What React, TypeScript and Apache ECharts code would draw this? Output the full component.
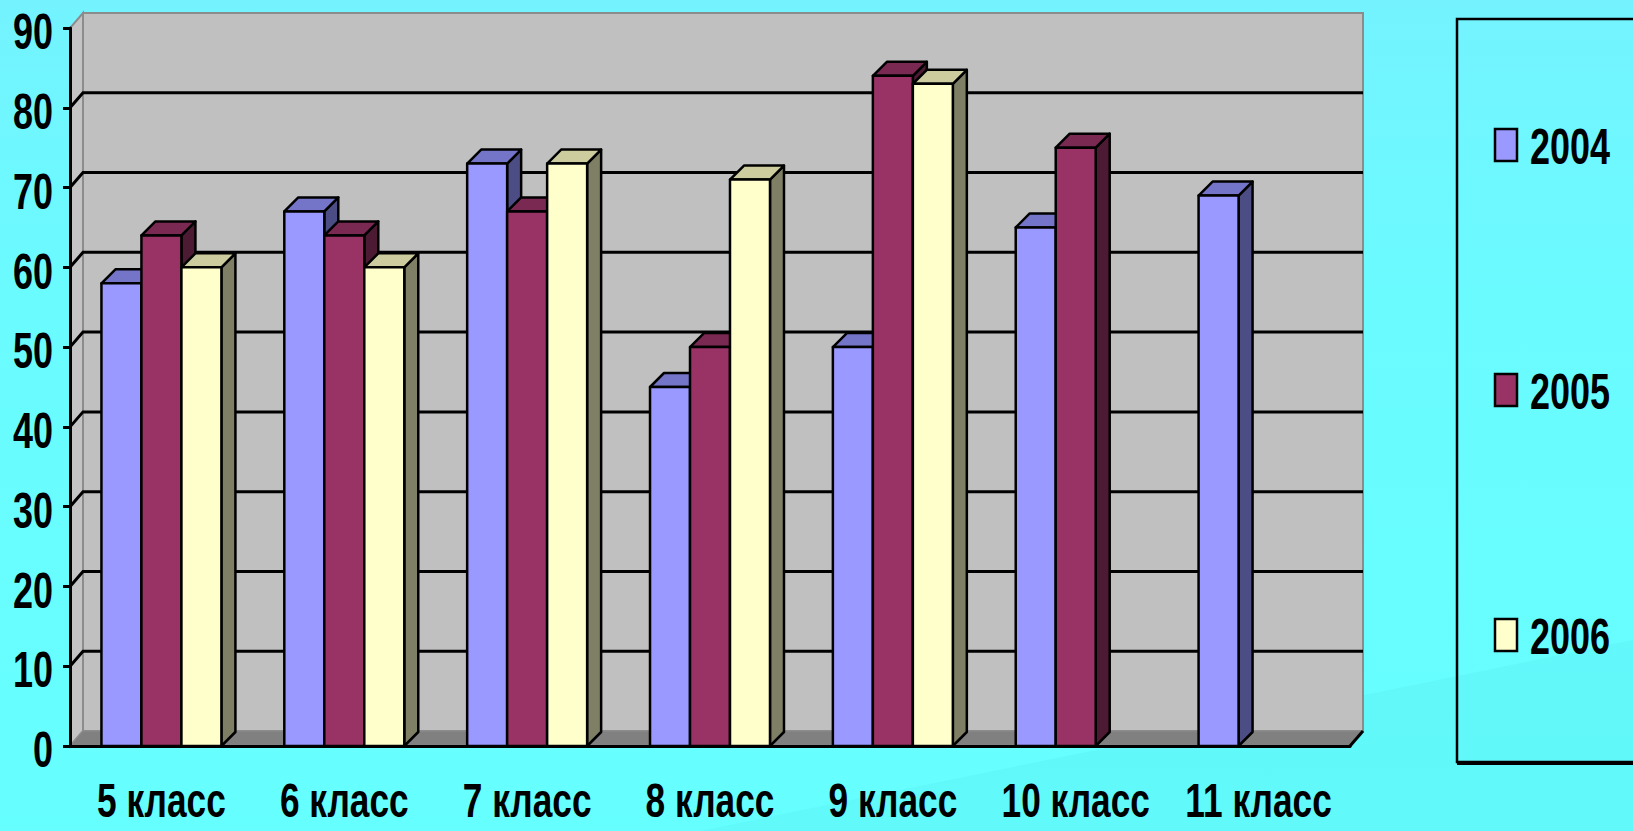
import React, { useEffect, useRef } from "react";
import * as echarts from "echarts";

const categories = ["5 класс", "6 класс", "7 класс", "8 класс", "9 класс", "10 класс", "11 класс"];
const seriesNames = ["2004", "2005", "2006"];
const values2004 = [58, 67, 73, 45, 50, 65, 69];
const values2005 = [64, 64, 67, 50, 84, 75, null];
const values2006 = [60, 60, 73, 71, 83, null, null];
const gridValues = [10, 20, 30, 40, 50, 60, 70, 80];
const yTickLabels = [0, 10, 20, 30, 40, 50, 60, 70, 80, 90];

const FONT = '"Liberation Sans", Arial, sans-serif';
const FONT_SIZE = 50;
const SX = 0.72;
const WDX = 13;
const WDY = -15;
const BDX = 14;
const BDY = -14;

const palettes = [
  { front: "#9999ff", top: "#7474c8", side: "#4d4d86" },
  { front: "#993366", top: "#7a2952", side: "#4d1a33" },
  { front: "#ffffcc", top: "#cccc9f", side: "#7f7f66" },
];

const textStyleBase = {
  fill: "#000",
  fontSize: FONT_SIZE,
  fontWeight: "bold",
  fontFamily: FONT,
  lineHeight: 40,
};

function makeBarSeries(name: string, vals: (number | null)[], s: number) {
  const pal = palettes[s];
  const data = vals
    .map((v, i) => (v === null ? null : [i, v]))
    .filter((d) => d !== null);
  return {
    type: "custom",
    name,
    clip: false,
    itemStyle: { color: pal.front },
    encode: { x: 0, y: 1 },
    data,
    renderItem: (params: any, api: any) => {
      const idx = api.value(0);
      const val = api.value(1);
      const top = api.coord([idx, val]);
      const base = api.coord([idx, 0]);
      const catW = api.size([1, 0])[0];
      const bw = catW * 0.2187;
      const x = top[0] - 1.5 * bw + s * bw;
      const y = top[1];
      const b = base[1];
      const stroke = { stroke: "#000", lineWidth: 2.5, lineJoin: "round" };
      return {
        type: "group",
        children: [
          {
            type: "polygon",
            shape: { points: [[x + bw, y], [x + bw + BDX, y + BDY], [x + bw + BDX, b + BDY], [x + bw, b]] },
            style: { fill: pal.side, ...stroke },
          },
          {
            type: "polygon",
            shape: { points: [[x, y], [x + BDX, y + BDY], [x + bw + BDX, y + BDY], [x + bw, y]] },
            style: { fill: pal.top, ...stroke },
          },
          {
            type: "rect",
            shape: { x, y, width: bw, height: b - y },
            style: { fill: pal.front, ...stroke },
          },
        ],
      };
    },
  };
}

export default function App() {
  const ref = useRef<HTMLDivElement>(null);
  useEffect(() => {
    if (!ref.current) return;
    const chart = echarts.init(ref.current, null, { renderer: "svg" });
    const legendCenters = [145, 390, 635];
    const legendGraphics: any[] = [];
    seriesNames.forEach((n, i) => {
      legendGraphics.push({
        type: "rect",
        z: 6,
        silent: true,
        shape: { x: 1495, y: legendCenters[i] - 16, width: 22, height: 32 },
        style: { fill: palettes[i].front, stroke: "#000", lineWidth: 2.5 },
      });
      legendGraphics.push({
        type: "text",
        z: 6,
        silent: true,
        x: 1530,
        y: legendCenters[i] + 2,
        scaleX: SX,
        style: { ...textStyleBase, text: n, align: "left", verticalAlign: "middle" },
      });
    });
    const option: any = {
      animation: false,
      grid: { left: 70, right: 283, top: 28, bottom: 85 },
      xAxis: {
        type: "category",
        data: categories,
        z: 10,
        axisLine: { lineStyle: { color: "#000", width: 3 } },
        axisTick: { length: 10, lineStyle: { color: "#000", width: 3 } },
        axisLabel: { show: false },
      },
      yAxis: {
        type: "value",
        min: 0,
        max: 90,
        interval: 10,
        z: 10,
        splitLine: { show: false },
        axisLine: { show: true, lineStyle: { color: "#000", width: 3 } },
        axisTick: { show: true, length: 7, lineStyle: { color: "#000", width: 3 } },
        axisLabel: { show: false },
      },
      graphic: [
        {
          type: "polygon",
          z: -5,
          silent: true,
          shape: { points: [[700, 831], [1633, 640], [1633, 831]] },
          style: { fill: "rgba(80,220,225,0.18)" },
        },
        {
          type: "rect",
          z: 5,
          silent: true,
          shape: { x: 1457, y: 19, width: 200, height: 743 },
          style: { fill: "none", stroke: "#000", lineWidth: 2.5 },
        },
        {
          type: "line",
          z: 5,
          silent: true,
          shape: { x1: 1457, y1: 763, x2: 1640, y2: 763 },
          style: { stroke: "#000", lineWidth: 4 },
        },
        ...legendGraphics,
      ],
      series: [
        {
          type: "custom",
          name: "walls",
          clip: false,
          silent: true,
          data: [[0, 0]],
          encode: { x: 0, y: 1 },
          renderItem: (params: any) => {
            const cs = params.coordSys;
            const L = cs.x;
            const T = cs.y;
            const R = cs.x + cs.width;
            const B = cs.y + cs.height;
            return {
              type: "group",
              children: [
                {
                  type: "rect",
                  shape: { x: L + WDX, y: T + WDY, width: cs.width, height: cs.height },
                  style: { fill: "#c0c0c0", stroke: "#8c8c8c", lineWidth: 2 },
                },
                {
                  type: "polygon",
                  shape: { points: [[L, B], [L, T], [L + WDX, T + WDY], [L + WDX, B + WDY]] },
                  style: { fill: "#c4c4c4", stroke: "#8c8c8c", lineWidth: 2 },
                },
                {
                  type: "polygon",
                  shape: { points: [[L, B], [L + WDX, B + WDY], [R + WDX, B + WDY], [R, B]] },
                  style: { fill: "#808080", stroke: "#8c8c8c", lineWidth: 1 },
                },
                {
                  type: "line",
                  shape: { x1: R, y1: B, x2: R + WDX, y2: B + WDY },
                  style: { stroke: "#000", lineWidth: 3 },
                },
              ],
            };
          },
        },
        {
          type: "custom",
          name: "gridlines",
          clip: false,
          silent: true,
          data: gridValues.map((v) => [0, v]),
          encode: { x: 0, y: 1 },
          renderItem: (params: any, api: any) => {
            const cs = params.coordSys;
            const L = cs.x;
            const R = cs.x + cs.width;
            const y = api.coord([0, api.value(1)])[1];
            return {
              type: "polyline",
              shape: { points: [[L, y], [L + WDX, y + WDY], [R + WDX, y + WDY]] },
              style: { stroke: "#000", lineWidth: 3, fill: "none" },
            };
          },
        },
        makeBarSeries("2004", values2004, 0),
        makeBarSeries("2005", values2005, 1),
        makeBarSeries("2006", values2006, 2),
        {
          type: "custom",
          name: "yLabels",
          clip: false,
          silent: true,
          z: 10,
          data: yTickLabels.map((v) => [0, v]),
          encode: { x: 0, y: 1 },
          renderItem: (params: any, api: any) => {
            const cs = params.coordSys;
            const v = api.value(1);
            const y = api.coord([0, v])[1];
            return {
              type: "text",
              x: cs.x - 17,
              y: y + 4,
              scaleX: SX,
              style: { ...textStyleBase, text: String(v), align: "right", verticalAlign: "middle" },
            };
          },
        },
        {
          type: "custom",
          name: "xLabels",
          clip: false,
          silent: true,
          z: 10,
          data: categories.map((c, i) => [i, 0]),
          encode: { x: 0, y: 1 },
          renderItem: (params: any, api: any) => {
            const i = api.value(0);
            const p = api.coord([i, 0]);
            return {
              type: "text",
              x: p[0],
              y: p[1] + 54,
              scaleX: SX,
              style: { ...textStyleBase, fontSize: 49, text: categories[i], align: "center", verticalAlign: "middle" },
            };
          },
        },
      ],
    };
    chart.setOption(option);
    return () => chart.dispose();
  }, []);
  return (
    <div
      ref={ref}
      style={{
        position: "fixed",
        left: 0,
        top: 0,
        width: "1633px",
        height: "831px",
        background: "linear-gradient(180deg, #74f3ff 0%, #6afbff 35%, #66ffff 100%)",
      }}
    />
  );
}
